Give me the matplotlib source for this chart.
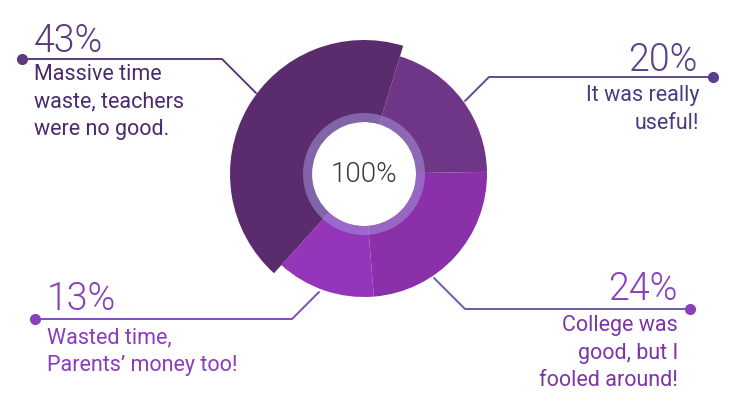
import matplotlib.pyplot as plt
from matplotlib.patches import Wedge

# data
labels = ["It was really\nuseful!",
          "College was\ngood, but I\nfooled around!",
          "Wasted time,\nParents\u2019 money too!",
          "Massive time\nwaste, teachers\nwere no good."]
values = [20, 24, 13, 43]
colors = ["#6f3587", "#8a30a8", "#9535ba", "#5a2c6d"]
total_label = "100%"

H = 414  # figure height in px, to flip pixel y into data y


def fy(py):
    return H - py


fig = plt.figure(figsize=(7.4, 4.14), dpi=100)
ax = fig.add_axes([0, 0, 1, 1])

cx, cy = 364, fy(175)
wedges, _ = ax.pie(values, colors=colors, radius=123, center=(cx, cy),
                   startangle=73, counterclock=False,
                   wedgeprops=dict(width=71, linewidth=0))
# the biggest slice sticks out further
big = values.index(max(values))
wedges[big].set_radius(134)
wedges[big].set_width(82)

# light ring round the hole
ax.add_patch(Wedge((cx, cy), 61, 0, 360, width=9, facecolor="#a493dc",
                   alpha=0.55, linewidth=0))
ax.text(cx, cy, total_label, ha="center", va="center", fontsize=20,
        family="Roboto", fontweight=300, color="#3a3a3a")

ax.set_xlim(0, 740)
ax.set_ylim(0, H)
ax.set_aspect("equal")
ax.axis("off")

# leader lines: (dot, elbow, end), text anchor, alignment, colours
callouts = [
    # 20%
    dict(pts=[(713, 78), (489, 78), (465, 102)], pct=(698, 71), txt=(699, 88),
         ha="right", line="#5d4d92", pc="#5a3f8c", tc="#4a3a80"),
    # 24%
    dict(pts=[(690, 310), (465, 310), (434, 279)], pct=(677, 300), txt=(678, 318),
         ha="right", line="#6a5aa8", pc="#8a40b8", tc="#7b35a8"),
    # 13%
    dict(pts=[(35, 320), (292, 320), (319, 293)], pct=(47, 310), txt=(47, 330),
         ha="left", line="#7d4db8", pc="#8a40b8", tc="#8a3cc0"),
    # 43%
    dict(pts=[(22, 60), (222, 60), (256, 94)], pct=(34, 52), txt=(34, 67),
         ha="left", line="#5a3a7a", pc="#5c3a7e", tc="#4b2a6b"),
]

for c, v, lab in zip(callouts, values, labels):
    xs = [p[0] for p in c["pts"]]
    ys = [fy(p[1]) for p in c["pts"]]
    ax.plot(xs, ys, color=c["line"], lw=1.4, solid_capstyle="round", zorder=1)
    ax.plot(xs[0], ys[0], "o", ms=7, color=c["pc"], zorder=3)
    ax.text(c["pct"][0], fy(c["pct"][1]), f"{v}%", ha=c["ha"], va="baseline",
            fontsize=27, family="Roboto", fontweight=300, color=c["pc"])
    ax.text(c["txt"][0], fy(c["txt"][1]) + 3, lab, ha=c["ha"], va="top",
            multialignment=c["ha"], fontsize=15.5, family="Roboto",
            color=c["tc"], linespacing=1.42)

fig.savefig("out.png", dpi=100, facecolor="white")
